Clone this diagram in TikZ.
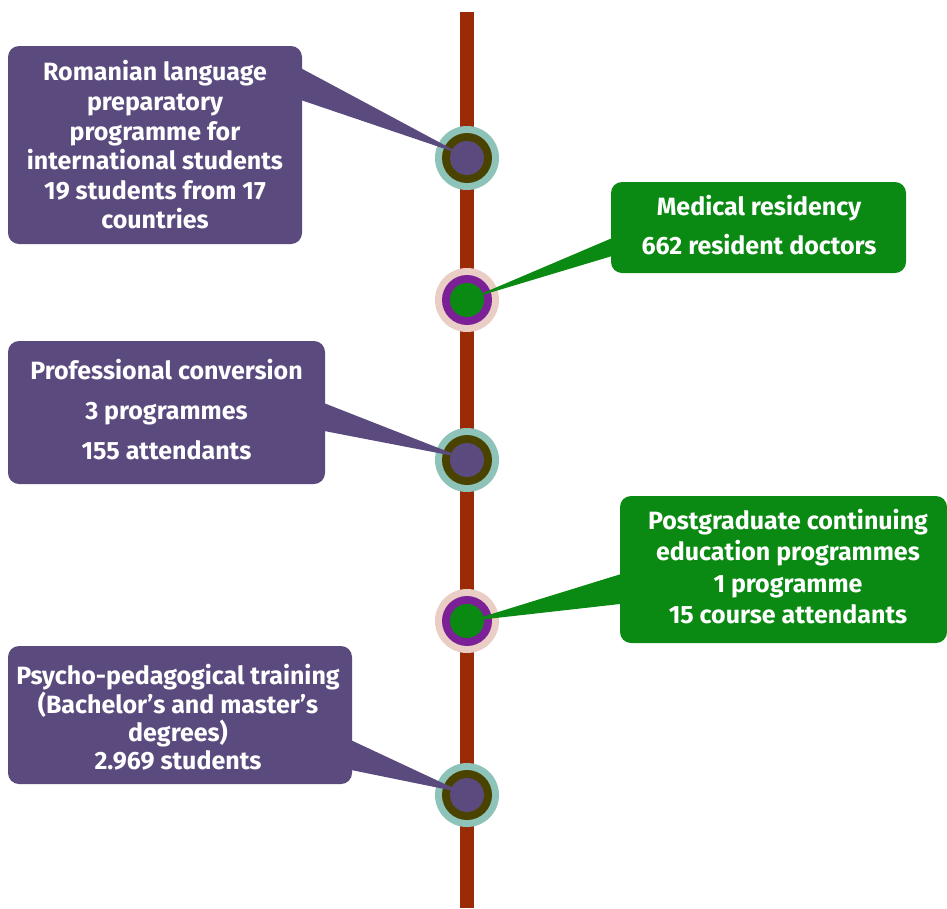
\documentclass[tikz,border=0pt]{standalone}
\usepackage{fontspec}
\setmainfont{Fira Sans}
\usetikzlibrary{calc}
\definecolor{purp}{HTML}{5A4A7E}
\definecolor{grn}{HTML}{0A8A12}
\definecolor{axis}{HTML}{9B2B06}
\definecolor{teal}{HTML}{8DC3B8}
\definecolor{olive}{HTML}{4A4300}
\definecolor{pinkring}{HTML}{EACDC4}
\definecolor{violet}{HTML}{7B2096}
\tikzset{
  box/.style={rounded corners=11pt, inner sep=0pt},
  pbox/.style={box, fill=purp},
  gbox/.style={box, fill=grn},
  txt/.style={text=white, align=center, inner sep=0pt,
    font=\bfseries\fontsize{25}{29.6}\selectfont},
}
\begin{document}
\begin{tikzpicture}[x=1pt,y=-1pt]
\useasboundingbox (0,0) rectangle (947,908);
% axis
\coordinate (top) at (467,12);
\coordinate (bot) at (467,908);
\draw[axis, line width=14pt] (top) -- (bot);
% markers
\foreach \n/\y/\a/\b/\c in {c1/158/teal/olive/purp, c2/300/pinkring/violet/grn, c3/460/teal/olive/purp, c4/621/pinkring/violet/grn, c5/795/teal/olive/purp}{
  \fill[\a] (467,\y) circle (32);
  \fill[\b] (467,\y) circle (25);
  \fill[\c] (467,\y) circle (17);
  \coordinate (\n) at (467,\y);
}
% boxes
\node[pbox, minimum width=294pt, minimum height=198pt] (b1) at (155,145) {};
\node[gbox, minimum width=295pt, minimum height=91pt] (b2) at (758.5,227.5) {};
\node[pbox, minimum width=317pt, minimum height=143pt] (b3) at (166.5,412.5) {};
\node[gbox, minimum width=327pt, minimum height=147pt] (b4) at (783.5,569.5) {};
\node[pbox, minimum width=344pt, minimum height=138pt] (b5) at (180,715) {};
% pointers
\fill[purp] ($(b1.north east)+(-2,22)$) -- ($(b1.north east)+(-2,54)$) -- ($(c1)+(-4,-3)$) -- cycle;
\fill[grn] ($(b2.north west)+(2,56)$) -- ($(b2.north west)+(2,74)$) -- ($(c2)+(2,-1)$) -- cycle;
\fill[purp] ($(b3.north east)+(-2,62)$) -- ($(b3.north east)+(-2,90)$) -- ($(c3)+(-3,-2)$) -- cycle;
\fill[grn] ($(b4.north west)+(2,78)$) -- ($(b4.north west)+(2,108)$) -- ($(c4)+(2,0)$) -- cycle;
\fill[purp] ($(b5.north east)+(-2,94)$) -- ($(b5.north east)+(-2,124)$) -- ($(c5)+(-3,-2)$) -- cycle;
% texts
\node[txt] (t1) at (155,145)
  {Romanian language\\preparatory\\programme for\\international students\\19 students from 17\\countries};
\node[txt, font=\bfseries\fontsize{25}{39}\selectfont] (t2) at (759,225.5)
  {Medical residency\\662 resident doctors};
\node[txt, font=\bfseries\fontsize{25}{40}\selectfont] (t3) at (166.5,409.5)
  {Professional conversion\\3 programmes\\155 attendants};
\node[txt, font=\bfseries\fontsize{25}{31.3}\selectfont] (t4) at (788,566.5)
  {Postgraduate continuing\\education programmes\\1 programme\\15 course attendants};
\node[txt, font=\bfseries\fontsize{25}{28.3}\selectfont] (t5) at (178,717.5)
  {Psycho-pedagogical training\\(Bachelor’s and master’s\\degrees)\\2.969 students};
\end{tikzpicture}
\end{document}
